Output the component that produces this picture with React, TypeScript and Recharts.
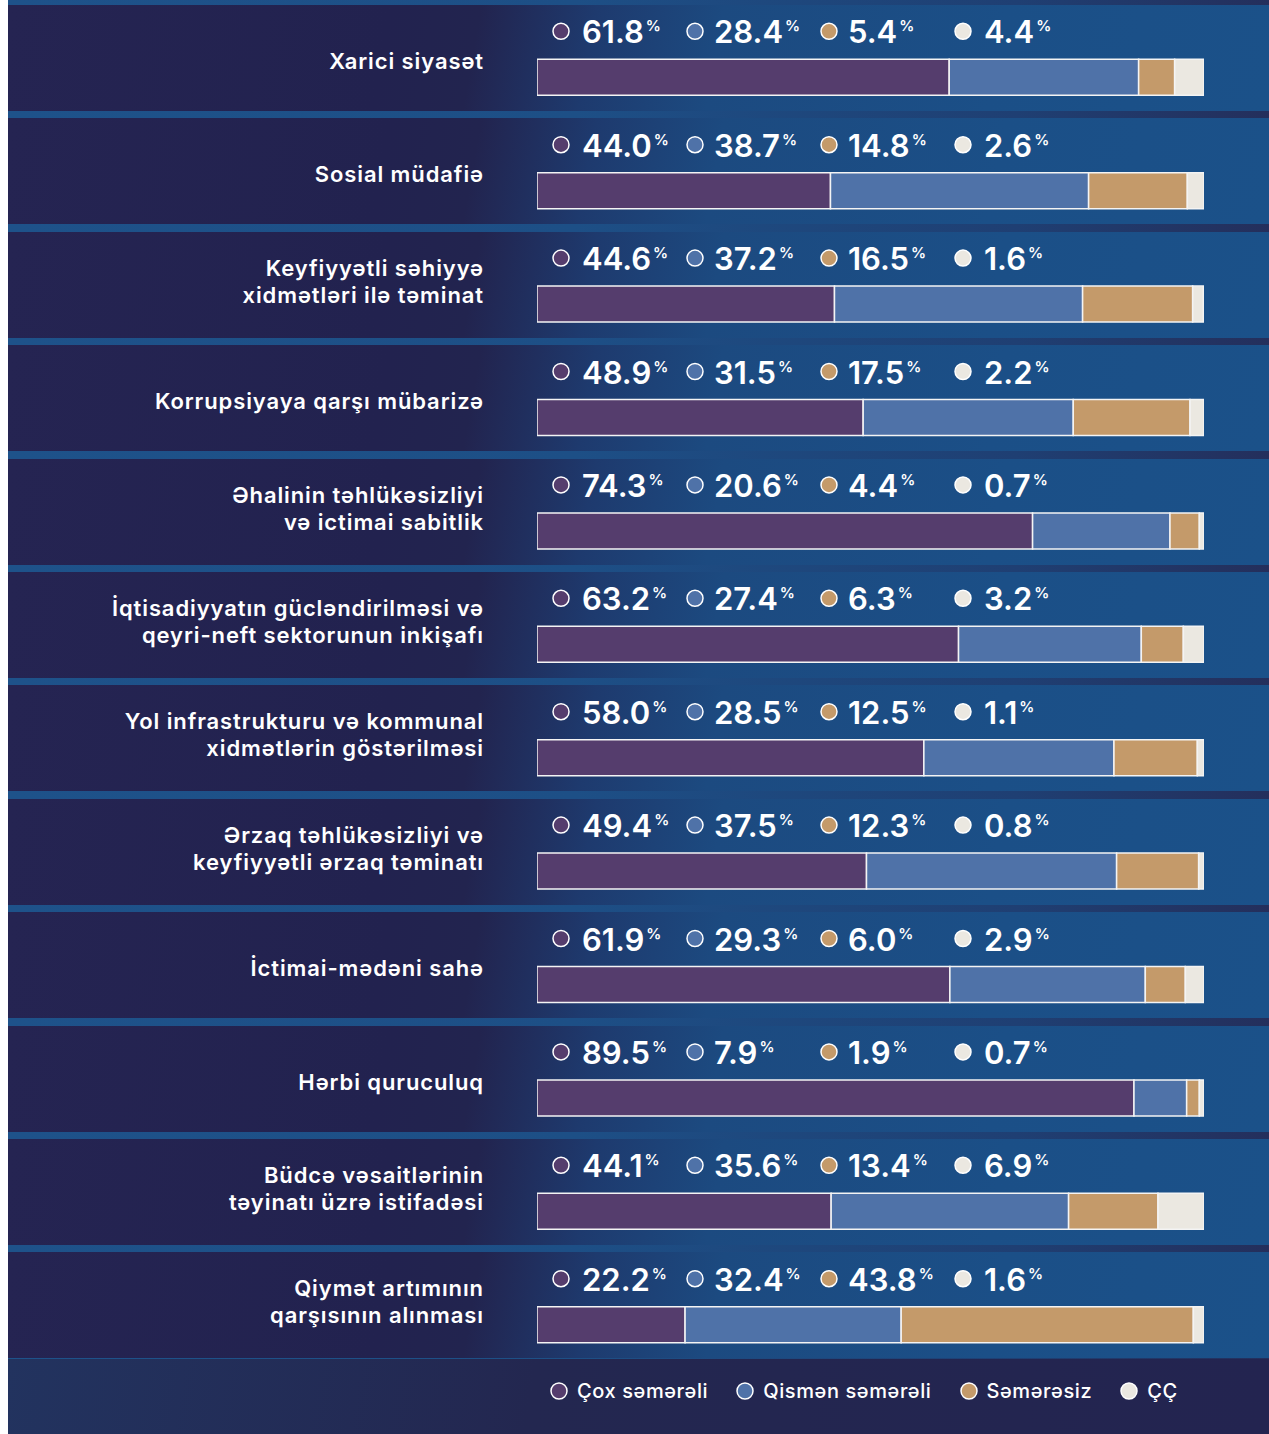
import { BarChart, Bar, XAxis, YAxis, Legend, LabelList } from "recharts";

// categories (line breaks as in the original layout)
const categories = [
    "Xarici siyasət",
    "Sosial müdafiə",
    "Keyfiyyətli səhiyyə\nxidmətləri ilə təminat",
    "Korrupsiyaya qarşı mübarizə",
    "Əhalinin təhlükəsizliyi\nvə ictimai sabitlik",
    "İqtisadiyyatın gücləndirilməsi və\nqeyri-neft sektorunun inkişafı",
    "Yol infrastrukturu və kommunal\nxidmətlərin göstərilməsi",
    "Ərzaq təhlükəsizliyi və\nkeyfiyyətli ərzaq təminatı",
    "İctimai-mədəni sahə",
    "Hərbi quruculuq",
    "Büdcə vəsaitlərinin\ntəyinatı üzrə istifadəsi",
    "Qiymət artımının\nqarşısının alınması",
];

const coxSemereli = [61.8, 44.0, 44.6, 48.9, 74.3, 63.2, 58.0, 49.4, 61.9, 89.5, 44.1, 22.2];
const qismenSemereli = [28.4, 38.7, 37.2, 31.5, 20.6, 27.4, 28.5, 37.5, 29.3, 7.9, 35.6, 32.4];
const semeresiz = [5.4, 14.8, 16.5, 17.5, 4.4, 6.3, 12.5, 12.3, 6.0, 1.9, 13.4, 43.8];
const cc = [4.4, 2.6, 1.6, 2.2, 0.7, 3.2, 1.1, 0.8, 2.9, 0.7, 6.9, 1.6];

const seriesKeys = ["cox", "qismen", "semeresiz", "cc"];
const seriesNames = ["Çox səmərəli", "Qismən səmərəli", "Səmərəsiz", "ÇÇ"];
const seriesColors = ["#553d6d", "#4f72a8", "#c49a6a", "#ebe8e1"];

const data = categories.map((name, i) => ({
    name,
    cox: coxSemereli[i],
    qismen: qismenSemereli[i],
    semeresiz: semeresiz[i],
    cc: cc[i],
}));

const FONT = "Inter, 'Noto Sans', sans-serif";
const W = 1261;
const H = 1434;
const ROW_PITCH = 113.4;
const MARGIN_TOP = 20.3;

// fixed column offsets of the value row, from the bar start
const MARKER_DX = [24, 158, 292, 426];
const TEXT_DX = [45, 177, 311, 447];

function CategoryTick(props: any) {
    const { x, y, payload } = props;
    const lines: string[] = String(payload.value).split("\n");
    const first = lines.length > 1 ? y - 36 : y - 16;
    return (
        <g>
            {lines.map((line, i) => (
                <text
                    key={i}
                    x={x - 45}
                    y={first + i * 27}
                    dy="0.36em"
                    textAnchor="end"
                    fill="#ffffff"
                    fontFamily={FONT}
                    fontSize={22}
                    fontWeight={600}
                    letterSpacing={0.9}
                >
                    {line}
                </text>
            ))}
        </g>
    );
}

function ValueLabels(props: any) {
    const { x, y, index } = props;
    const vals = [coxSemereli[index], qismenSemereli[index], semeresiz[index], cc[index]];
    return (
        <g>
            {vals.map((v, k) => (
                <g key={k}>
                    <circle
                        cx={x + MARKER_DX[k]}
                        cy={y - 28}
                        r={8}
                        fill={seriesColors[k]}
                        stroke="#ffffff"
                        strokeWidth={1.5}
                    />
                    <text
                        x={x + TEXT_DX[k]}
                        y={y - 16}
                        fill="#ffffff"
                        fontFamily={FONT}
                        fontSize={31}
                        fontWeight={600}
                    >
                        {v.toFixed(1)}
                        <tspan fontSize={15} dx={2} dy={-12}>
                            %
                        </tspan>
                    </text>
                </g>
            ))}
        </g>
    );
}

function LegendContent() {
    return (
        <div style={{ display: "flex", alignItems: "center", gap: 28 }}>
            {seriesNames.map((n, k) => (
                <div key={n} style={{ display: "flex", alignItems: "center" }}>
                    <svg width={18} height={18} style={{ marginRight: 9 }}>
                        <circle cx={9} cy={9} r={8} fill={seriesColors[k]} stroke="#fff" strokeWidth={1.5} />
                    </svg>
                    <span
                        style={{
                            color: "#fff",
                            fontFamily: FONT,
                            fontSize: 20,
                            fontWeight: 500,
                            letterSpacing: 0.6,
                            whiteSpace: "nowrap",
                        }}
                    >
                        {n}
                    </span>
                </div>
            ))}
        </div>
    );
}

export default function App() {
    return (
        <div
            style={{
                position: "absolute",
                left: 8,
                top: 0,
                width: W,
                height: H,
                overflow: "hidden",
                background: "linear-gradient(90deg, #1e528a 0%, #1d4f86 45%, #1f3f73 80%, #242f5c 100%)",
            }}
        >
            {categories.map((c, i) => (
                <div
                    key={c}
                    style={{
                        position: "absolute",
                        left: 0,
                        top: 5 + i * ROW_PITCH,
                        width: W,
                        height: 106,
                        background:
                            "linear-gradient(100deg, #252452 0%, #22224f 30%, #22244f 37%, #1e3a6e 46%, #1c4a80 56%, #1b4f87 78%, #1b5189 100%)",
                    }}
                />
            ))}
            <div
                style={{
                    position: "absolute",
                    left: 0,
                    top: 5 + 12 * ROW_PITCH - 7,
                    width: W,
                    height: H,
                    background: "linear-gradient(100deg, #22335f 0%, #232750 35%, #232350 100%)",
                }}
            />
            <div style={{ position: "absolute", left: 0, top: 0 }}>
                <BarChart
                    width={W}
                    height={H}
                    layout="vertical"
                    data={data}
                    margin={{ top: MARGIN_TOP, right: 65, bottom: H - MARGIN_TOP - 12 * ROW_PITCH, left: 0 }}
                >
                    <XAxis type="number" domain={[0, 100]} hide allowDataOverflow />
                    <YAxis
                        type="category"
                        dataKey="name"
                        width={529}
                        interval={0}
                        tickLine={false}
                        axisLine={false}
                        tick={<CategoryTick />}
                    />
                    <Legend
                        verticalAlign="middle"
                        layout="horizontal"
                        wrapperStyle={{ top: 1379, left: 542, width: 700 }}
                        content={<LegendContent />}
                    />
                    {seriesKeys.map((k, i) => (
                        <Bar
                            key={k}
                            dataKey={k}
                            name={seriesNames[i]}
                            stackId="a"
                            fill={seriesColors[i]}
                            stroke="#f4f4f4"
                            strokeWidth={1.5}
                            barSize={36}
                            isAnimationActive={false}
                        >
                            {i === 0 && <LabelList dataKey={k} content={<ValueLabels />} />}
                        </Bar>
                    ))}
                </BarChart>
            </div>
        </div>
    );
}
